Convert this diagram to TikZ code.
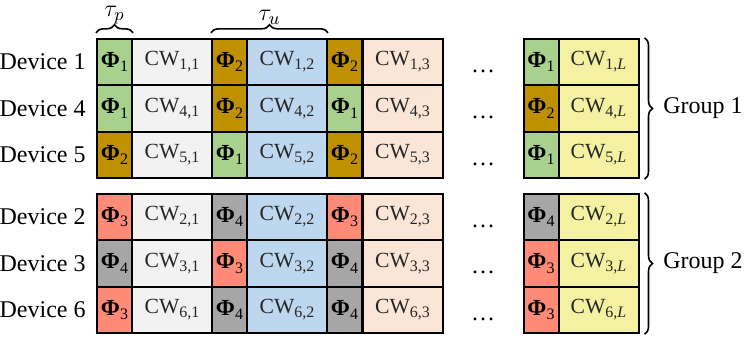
\documentclass[tikz,border=0pt]{standalone}
\usepackage{fontspec}
\setmainfont{Liberation Serif}
\usetikzlibrary{decorations.pathreplacing}

\definecolor{ph1}{HTML}{A9D18E}
\definecolor{ph2}{HTML}{BF9000}
\definecolor{ph3}{HTML}{FF8A78}
\definecolor{ph4}{HTML}{A6A6A6}
\definecolor{cw1}{HTML}{F2F2F2}
\definecolor{cw2}{HTML}{BDD7EE}
\definecolor{cw3}{HTML}{FBE5D6}
\definecolor{cwL}{HTML}{F4F1A2}

\newcommand{\lowsub}[1]{\raisebox{-0.4ex}{\fontsize{8pt}{9pt}\selectfont #1}}

\begin{document}
\begin{tikzpicture}[x=0.5pt,y=-0.5pt,
  phibox/.style={draw, line width=1pt, minimum width=17.5pt, minimum height=23.2pt, inner sep=0pt,
    font=\fontsize{11.5pt}{13pt}\selectfont},
  cwbox/.style={draw, line width=1pt, minimum width=40pt, minimum height=23.2pt, inner sep=0pt,
    font=\fontsize{10.8pt}{12pt}\selectfont, text=black!85},
  devlabel/.style={anchor=east, inner sep=0pt, font=\fontsize{12pt}{14pt}\selectfont},
  grplabel/.style={anchor=west, inner sep=0pt, font=\fontsize{12pt}{14pt}\selectfont},
  brc/.style={decorate, decoration={brace, amplitude=4pt}, line width=0.8pt}]
  \useasboundingbox (0,0) rectangle (747,338);

  % rows: device / y / pilots of the four slots
  \foreach \d/\y/\a/\b/\c/\e in {1/62/1/2/2/1, 4/108.5/1/2/1/2, 5/155/2/1/2/1,
                                  2/217/3/4/3/4, 3/263.5/4/3/4/3, 6/310/3/4/4/3} {
    \node[devlabel] (dev\d) at (86,\y) {Device \d};
    \foreach \k/\px/\cx/\p/\s in {1/114.5/172/\a/1, 2/229.5/287/\b/2, 3/344.5/402.5/\c/3,
                                  L/541/598.5/\e/\textit{L}} {
      \node[phibox, fill=ph\p] (p\d\k) at (\px,\y) {{\bfseries Φ}\lowsub{\p}};
      \node[cwbox, fill=cw\k] (c\d\k) at (\cx,\y) {CW\lowsub{\d,\s}};
    }
    \node[font=\fontsize{12pt}{14pt}\selectfont] (dots\d) at (483,\y+9) {\dots};
  }

  % slot durations
  \draw[brc] ([yshift=2.5pt]p11.north west) -- ([yshift=2.5pt]p11.north east)
    node[midway, above=4pt, inner sep=0pt, font=\fontsize{13pt}{15pt}\selectfont] (taup) {$\tau_p$};
  \draw[brc] ([yshift=2.5pt]p12.north west) -- ([yshift=2.5pt]c12.north east)
    node[midway, above=4pt, inner sep=0pt, font=\fontsize{13pt}{15pt}\selectfont] (tauu) {$\tau_u$};

  % groups
  \draw[brc] ([xshift=2.5pt]c1L.north east) -- ([xshift=2.5pt]c5L.south east)
    node[midway, right=9pt, grplabel] (grp1) {Group 1};
  \draw[brc] ([xshift=2.5pt]c2L.north east) -- ([xshift=2.5pt]c6L.south east)
    node[midway, right=9pt, grplabel] (grp2) {Group 2};
\end{tikzpicture}
\end{document}
